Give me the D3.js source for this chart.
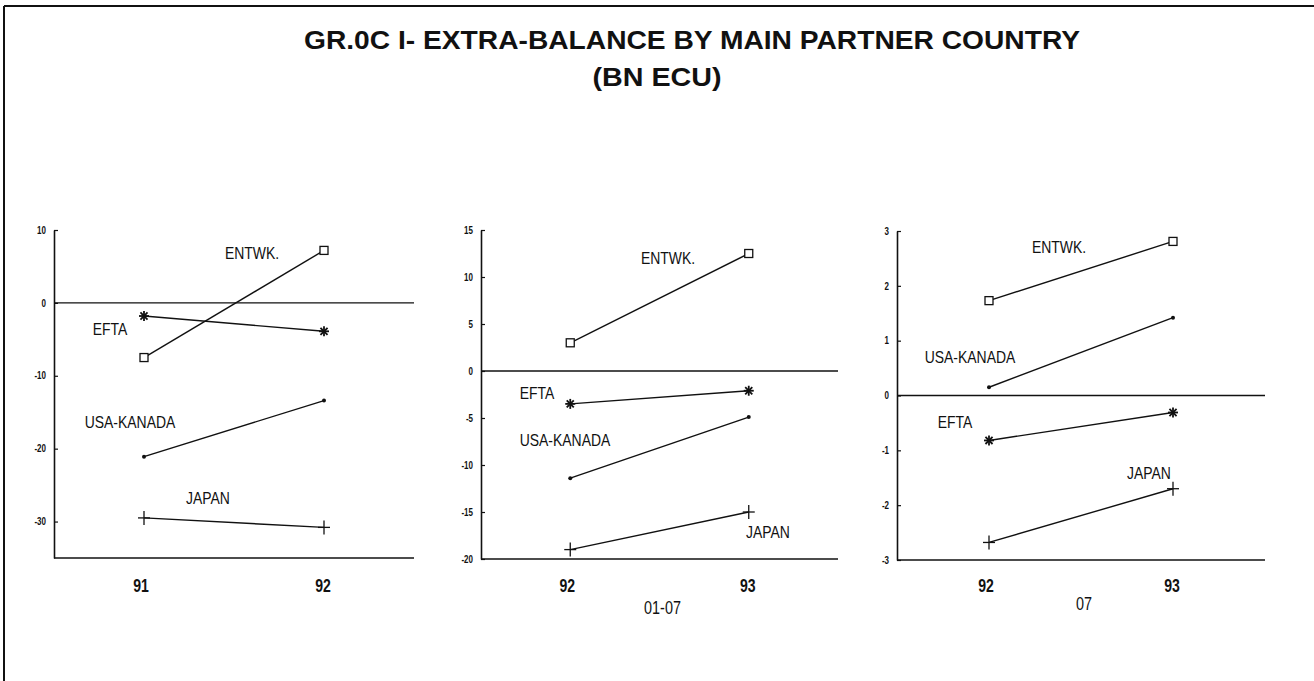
<!DOCTYPE html>
<html>
<head>
<meta charset="utf-8">
<script src="https://cdn.jsdelivr.net/npm/d3@7/dist/d3.min.js"></script>
<style>
  html, body { margin: 0; padding: 0; background: #fff; }
  svg { display: block; }
  text { font-family: "Liberation Sans", Arial, sans-serif; fill: #111; }
</style>
</head>
<body>
<svg id="chart" width="1314" height="681"></svg>
<script>
// ---------- data ----------
const titleLines = ["GR.0C I- EXTRA-BALANCE BY MAIN PARTNER COUNTRY", "(BN ECU)"];
const seriesNames = ["ENTWK.", "EFTA", "USA-KANADA", "JAPAN"];
const seriesMarkers = ["square", "asterisk", "dot", "plus"];
const panelYears = [["91", "92"], ["92", "93"], ["92", "93"]];
const panelSubLabels = ["", "01-07", "07"];
const panelDomains = [[-35, 10], [-20, 15], [-3, 3]];
const panelTicks = [[10, 0, -10, -20, -30], [15, 10, 5, 0, -5, -10, -15, -20], [3, 2, 1, 0, -1, -2, -3]];
// values per series, per panel: [first year, second year]
const entwkValues = [[-7.5, 7.2], [3.0, 12.5], [1.73, 2.81]];
const eftaValues = [[-1.8, -3.9], [-3.5, -2.1], [-0.82, -0.31]];
const usaKanadaValues = [[-21.1, -13.4], [-11.4, -4.9], [0.15, 1.42]];
const japanValues = [[-29.5, -30.8], [-19.0, -15.0], [-2.68, -1.70]];
const seriesValues = [entwkValues, eftaValues, usaKanadaValues, japanValues];

// ---------- layout ----------
const panelX = [[54, 414], [481, 838], [897, 1265]];
const panelY = [[558, 230], [559, 230], [560, 231]];
// label anchor positions (pixel centers / baselines), per panel, per series
const labelPos = [
  [[252, 259], [110, 335], [130, 428], [208, 504]],
  [[668, 264], [537, 399], [565, 446], [768, 538]],
  [[1059, 253], [955, 428], [970, 363], [1149, 479]]
];
const subLabelBaseline = [0, 614, 610];

const svg = d3.select("#chart");

function condense(sel, factor) {
  sel.each(function () {
    const len = this.getComputedTextLength();
    d3.select(this).attr("textLength", len * factor).attr("lengthAdjust", "spacingAndGlyphs");
  });
}

// frame (top and left border)
svg.append("line").attr("x1", 4).attr("x2", 1314).attr("y1", 6).attr("y2", 6)
  .attr("stroke", "#111").attr("stroke-width", 2);
svg.append("line").attr("x1", 4).attr("x2", 4).attr("y1", 6).attr("y2", 681)
  .attr("stroke", "#111").attr("stroke-width", 2);

// title
svg.append("text").attr("x", 692).attr("y", 49).attr("text-anchor", "middle")
  .attr("font-size", 25).attr("font-weight", "bold").text(titleLines[0])
  .attr("textLength", 776).attr("lengthAdjust", "spacingAndGlyphs");
svg.append("text").attr("x", 657).attr("y", 86).attr("text-anchor", "middle")
  .attr("font-size", 25).attr("font-weight", "bold").text(titleLines[1])
  .attr("textLength", 129).attr("lengthAdjust", "spacingAndGlyphs");

function drawMarker(g, type, cx, cy) {
  if (type === "square") {
    g.append("rect").attr("x", cx - 4).attr("y", cy - 4).attr("width", 8).attr("height", 8)
      .attr("fill", "#fff").attr("stroke", "#111").attr("stroke-width", 1.3);
  } else if (type === "asterisk") {
    const r = 5;
    for (let a = 0; a < 180; a += 45) {
      const rad = a * Math.PI / 180;
      g.append("line")
        .attr("x1", cx - r * Math.cos(rad)).attr("y1", cy - r * Math.sin(rad))
        .attr("x2", cx + r * Math.cos(rad)).attr("y2", cy + r * Math.sin(rad))
        .attr("stroke", "#111").attr("stroke-width", 1.8);
    }
  } else if (type === "dot") {
    g.append("circle").attr("cx", cx).attr("cy", cy).attr("r", 2).attr("fill", "#111");
  } else if (type === "plus") {
    g.append("line").attr("x1", cx - 6).attr("x2", cx + 6).attr("y1", cy).attr("y2", cy)
      .attr("stroke", "#111").attr("stroke-width", 1.3);
    g.append("line").attr("x1", cx).attr("x2", cx).attr("y1", cy - 7).attr("y2", cy + 7)
      .attr("stroke", "#111").attr("stroke-width", 1.3);
  }
}

panelDomains.forEach((dom, p) => {
  const g = svg.append("g");
  const x = d3.scaleLinear().domain([-0.5, 1.5]).range(panelX[p]);
  const y = d3.scaleLinear().domain(dom).range(panelY[p]);

  // y axis
  const yAxis = d3.axisLeft(y).tickValues(panelTicks[p]).tickSize(-4).tickSizeOuter(0)
    .tickPadding(8).tickFormat(d => String(d));
  const ga = g.append("g").attr("transform", `translate(${panelX[p][0]},0)`).call(yAxis);
  ga.select(".domain").attr("stroke", "#111").attr("stroke-width", 1.6);
  ga.selectAll(".tick line").attr("stroke", "#111").attr("stroke-width", 1.2);
  ga.selectAll(".tick text").attr("font-size", 10).attr("font-weight", "bold")
    .attr("font-family", "Liberation Sans, Arial, sans-serif").attr("fill", "#111")
    .call(condense, 0.8);

  // bottom axis line
  g.append("line").attr("x1", panelX[p][0]).attr("x2", panelX[p][1])
    .attr("y1", y(dom[0])).attr("y2", y(dom[0]))
    .attr("stroke", "#111").attr("stroke-width", 1.6);
  // zero line
  g.append("line").attr("x1", panelX[p][0]).attr("x2", panelX[p][1])
    .attr("y1", y(0)).attr("y2", y(0))
    .attr("stroke", "#111").attr("stroke-width", 1.3);

  // x labels
  panelYears[p].forEach((yr, i) => {
    g.append("text").attr("x", x(i) - 3 + 2 * i).attr("y", 592).attr("text-anchor", "middle")
      .attr("font-size", 18).attr("font-weight", "bold").text(yr).call(condense, 0.78);
  });
  if (panelSubLabels[p]) {
    g.append("text").attr("x", (x(0) + x(1)) / 2 + 3).attr("y", subLabelBaseline[p])
      .attr("text-anchor", "middle").attr("font-size", 18).text(panelSubLabels[p])
      .call(condense, 0.8);
  }

  // series
  seriesValues.forEach((vals, s) => {
    const v = vals[p];
    const line = d3.line().x((d, i) => x(i)).y(d => y(d));
    g.append("path").attr("d", line(v)).attr("fill", "none")
      .attr("stroke", "#111").attr("stroke-width", 1.4);
    v.forEach((d, i) => drawMarker(g, seriesMarkers[s], x(i), y(d)));
    const lp = labelPos[p][s];
    g.append("text").attr("x", lp[0]).attr("y", lp[1]).attr("text-anchor", "middle")
      .attr("font-size", 17).text(seriesNames[s]).call(condense, 0.82);
  });
});
</script>
</body>
</html>
